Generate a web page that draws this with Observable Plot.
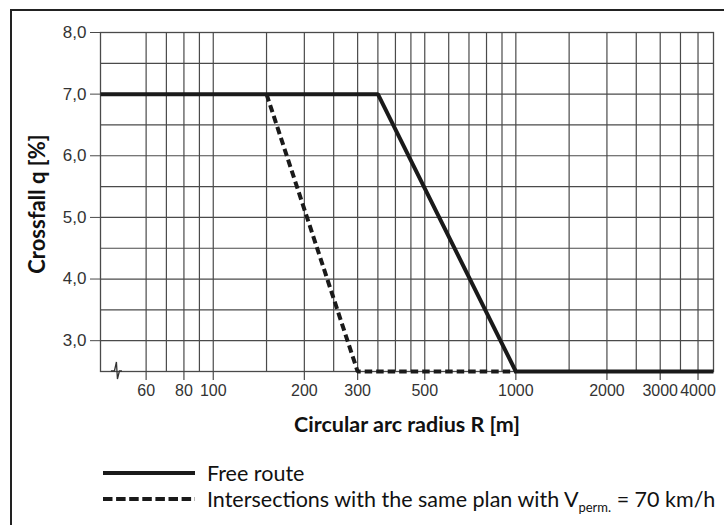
<!DOCTYPE html>
<html>
<head>
<meta charset="utf-8">
<script src="https://cdn.jsdelivr.net/npm/d3@7"></script>
<script src="https://cdn.jsdelivr.net/npm/@observablehq/plot@0.6"></script>
<style>
  html, body { margin: 0; padding: 0; background: #fff; overflow: hidden; }
  body { width: 724px; height: 525px; position: relative; }
  #box { position: absolute; left: 10px; top: 9px; right: -10px; bottom: -10px; border: 2px solid #222; pointer-events: none; }
  #chart { position: absolute; left: 0; top: 0; }
  .title { position: absolute; font-family: Lato, sans-serif; font-weight: bold; font-size: 21.5px; color: #111; white-space: nowrap; line-height: 1; }
  #xtitle { left: 407px; top: 425px; transform: translate(-50%, -50%); }
  #ytitle { left: 37px; top: 204px; transform: translate(-50%, -50%) rotate(-90deg); font-size: 22px; }
  #legend { position: absolute; left: 103px; top: 460px; font-family: Lato, sans-serif; font-size: 21.5px; color: #111; }
  .row { display: flex; align-items: center; height: 26px; white-space: nowrap; }
  .row svg { margin-right: 12px; flex: none; }
  sub { font-size: 13px; vertical-align: -5px; line-height: 0; }
</style>
</head>
<body>
<div id="chart"></div>
<div id="xtitle" class="title"></div>
<div id="ytitle" class="title"></div>
<div id="legend"></div>
<div id="box"></div>
<script>
// Data
const freeRouteR = [42.4, 350, 1000, 4500];
const freeRouteQ = [7.0, 7.0, 2.5, 2.5];
const intersectR = [150, 300, 1000];
const intersectQ = [7.0, 2.5, 2.5];
const gridR = [60, 70, 80, 90, 100, 150, 200, 250, 300, 350, 400, 450, 500, 600, 700, 800, 900, 1000, 1500, 2000, 2500, 3000, 3500, 4000];
const tickR = [60, 80, 100, 200, 300, 500, 1000, 2000, 3000, 4000];
const gridQ = [3.0, 3.5, 4.0, 4.5, 5.0, 5.5, 6.0, 6.5, 7.0, 7.5, 8.0];
const tickQ = [3, 4, 5, 6, 7, 8];
const axisBreakR = [47.5];
const xTitle = "Circular arc radius R [m]";
const yTitle = "Crossfall q [%]";
const legendItems = ["Free route", "Intersections with the same plan with V<sub>perm.</sub> = 70 km/h"];

const free = freeRouteR.map((r, i) => ({r, q: freeRouteQ[i]}));
const inter = intersectR.map((r, i) => ({r, q: intersectQ[i]}));

const W = 724, H = 440, mTop = 32, mBottom = 69, mLeft = 100, mRight = 11;
const plotH = H - mTop - mBottom;
const gridStyle = {stroke: "#4a4a4a", strokeOpacity: 1, strokeWidth: 1.2};

const chart = Plot.plot({
  width: W,
  height: H,
  marginLeft: mLeft,
  marginRight: mRight,
  marginTop: mTop,
  marginBottom: mBottom,
  style: {fontFamily: "'Liberation Sans', Arial, sans-serif", background: "transparent", overflow: "visible"},
  x: {type: "log", domain: [42.4, 4500], axis: null},
  y: {domain: [2.5, 8.0]},
  marks: [
    Plot.gridX(gridR, gridStyle),
    Plot.gridY(gridQ, gridStyle),
    Plot.frame({stroke: "#4a4a4a", strokeWidth: 1.3}),
    // x ticks (manual, to keep every listed tick on the log scale)
    Plot.ruleX(tickR, {x: d => d, insetTop: plotH, insetBottom: -9, stroke: "#4a4a4a", strokeWidth: 1.2}),
    Plot.text(tickR, {x: d => d, frameAnchor: "bottom", lineAnchor: "top", dy: 13, text: d => String(d), fontSize: 16, fill: "#333"}),
    Plot.axisY(tickQ, {tickSize: 10, tickPadding: 4, fontSize: 17, fill: "#333", stroke: "#4a4a4a", label: null, tickFormat: d => d.toFixed(1).replace(".", ",")}),
    // axis break symbol on the bottom axis
    Plot.ruleX(axisBreakR, {
      render: (index, scales, values, dims) => {
        const x0 = scales.x(axisBreakR[0]);
        const y0 = dims.height - dims.marginBottom;
        const g = d3.create("svg:g");
        g.append("path")
          .attr("d", `M${x0 - 4},${y0} L${x0 - 0.5},${y0} L${x0 + 1.5},${y0 - 9} L${x0 + 2.5},${y0 + 8} L${x0 + 4.5},${y0} L${x0 + 7},${y0}`)
          .attr("fill", "none").attr("stroke", "#333").attr("stroke-width", 1.3);
        return g.node();
      }
    }),
    Plot.line(free, {x: "r", y: "q", stroke: "#1a1a1a", strokeWidth: 4, strokeLinejoin: "miter", strokeLinecap: "butt"}),
    Plot.line(inter, {x: "r", y: "q", stroke: "#1a1a1a", strokeWidth: 4, strokeDasharray: "7.5,4", strokeLinejoin: "miter", strokeLinecap: "butt"})
  ]
});
document.getElementById("chart").appendChild(chart);
document.getElementById("xtitle").textContent = xTitle;
document.getElementById("ytitle").textContent = yTitle;

const legend = document.getElementById("legend");
legendItems.forEach((label, i) => {
  const row = document.createElement("div");
  row.className = "row";
  const dash = i === 1 ? 'stroke-dasharray="9.5,3.6"' : "";
  row.innerHTML = `<svg width="92" height="8"><line x1="0" x2="92" y1="4" y2="4" stroke="#1a1a1a" stroke-width="4" stroke-linecap="butt" ${dash}/></svg><span>${label}</span>`;
  legend.appendChild(row);
});
</script>
</body>
</html>
